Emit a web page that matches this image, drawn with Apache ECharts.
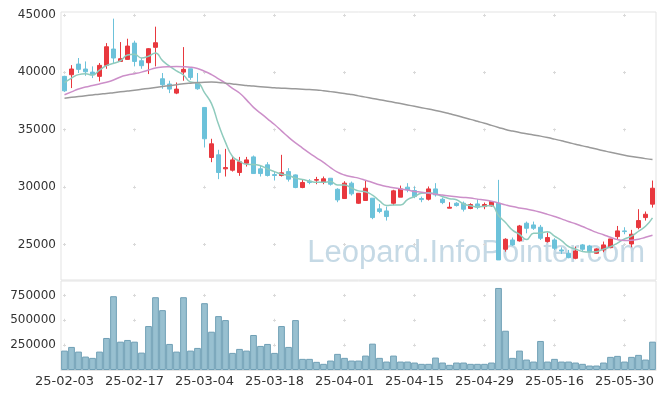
<!DOCTYPE html>
<html>
<head>
<meta charset="utf-8">
<style>
  html, body { margin: 0; padding: 0; background: #fff; }
  #main { width: 665px; height: 398px; }
</style>
<script src="https://cdn.jsdelivr.net/npm/echarts@6/dist/echarts.min.js"></script>
</head>
<body>
<div id="main"></div>
<script>
// trading days
var dates = ['25-02-03','25-02-04','25-02-05','25-02-06','25-02-07','25-02-10','25-02-11','25-02-12','25-02-13','25-02-14',
  '25-02-17','25-02-18','25-02-19','25-02-20','25-02-21','25-02-24','25-02-25','25-02-26','25-02-27','25-02-28',
  '25-03-04','25-03-05','25-03-06','25-03-07','25-03-10','25-03-11','25-03-12','25-03-13','25-03-14','25-03-17',
  '25-03-18','25-03-19','25-03-20','25-03-21','25-03-24','25-03-25','25-03-26','25-03-27','25-03-28','25-03-31',
  '25-04-01','25-04-02','25-04-03','25-04-04','25-04-07','25-04-08','25-04-09','25-04-10','25-04-11','25-04-14',
  '25-04-15','25-04-16','25-04-17','25-04-18','25-04-21','25-04-22','25-04-23','25-04-24','25-04-25','25-04-28',
  '25-04-29','25-04-30','25-05-02','25-05-07','25-05-08','25-05-09','25-05-12','25-05-13','25-05-14','25-05-15',
  '25-05-16','25-05-19','25-05-20','25-05-21','25-05-22','25-05-23','25-05-26','25-05-27','25-05-28','25-05-29',
  '25-05-30','25-06-02','25-06-04','25-06-05','25-06-09'];

var opens = [39650,39790,40720,40290,40020,39650,40610,42030,40950,41130,
  42550,41010,40840,42180,39440,38980,38190,40020,40310,39060,
  36940,32580,32810,31590,31470,31270,32080,32630,31590,31940,
  31090,31010,31350,31060,29960,30510,30600,30400,30770,29810,
  29000,30340,28590,28830,29030,28100,27920,28590,29120,29990,
  29700,29000,28940,29840,28940,28160,28590,28590,28130,28530,
  28300,28360,28590,24580,25390,25310,26850,26700,26500,25250,
  25390,24520,24230,23790,24960,24870,24230,24520,24720,25680,
  26180,25040,26470,27340,28510];
var closes = [38390,40290,40260,40050,39790,40610,42230,41250,41190,42290,
  40950,40580,42060,42580,38920,38540,38540,40260,39560,38570,
  34210,33770,31270,31700,32370,32200,32370,31180,31180,31010,
  31010,31240,30690,29960,30400,30400,30660,30720,30250,28880,
  30340,29410,29460,29900,27340,27870,27430,29670,29840,29760,
  29170,28910,29840,29320,28650,28240,28390,28070,28480,28240,
  28480,28740,23650,25450,24960,26610,26410,26410,25540,25600,
  24670,24430,23850,24430,24580,24370,24610,24960,25480,26180,
  26120,25890,27080,27630,29900];
var lows = [38300,38630,39940,39700,39500,39210,40310,40720,40950,41100,
  40520,40310,39850,40520,38570,38190,38100,39270,39350,38480,
  33450,32170,30690,30920,31350,30980,31790,31180,30920,30920,
  30570,30920,30480,29900,29900,30250,30250,30250,30130,28680,
  29000,29260,28530,28830,27200,27720,27080,28420,29120,29550,
  29030,28680,28830,29170,28510,28160,28300,27870,28070,28070,
  28070,28300,23650,24370,24870,25250,25970,26270,25390,25160,
  24520,24170,23790,23710,24430,24290,24170,24320,24670,25450,
  25890,24750,26320,27080,28210];
var highs = [39700,40630,41250,40950,40520,40810,42550,44680,42640,42930,
  42760,41250,42120,43980,39940,39270,39120,42200,40310,39940,
  36940,34210,33250,33330,32660,32630,32630,32750,31880,32170,
  31350,32810,31650,31100,30690,30690,30890,30920,30770,29900,
  30510,30480,29460,30570,29030,28530,28300,29760,30130,30340,
  30050,29170,30050,30340,29090,28680,28680,28740,28590,28940,
  28650,28740,30630,25540,25600,26700,26990,26990,26700,26030,
  25540,24750,24520,24810,25040,24960,24670,25250,25480,26610,
  26500,26270,28070,27870,30570];

var volumes = [195000,232000,185000,135000,122000,185000,322000,742000,285000,302000,
  285000,175000,442000,732000,602000,262000,185000,732000,195000,222000,
  672000,385000,542000,502000,172000,212000,195000,352000,242000,262000,
  172000,442000,232000,502000,112000,112000,82000,62000,95000,162000,
  122000,95000,95000,145000,265000,122000,85000,145000,85000,85000,
  75000,62000,62000,125000,75000,52000,75000,75000,62000,62000,
  62000,75000,825000,395000,122000,195000,105000,85000,292000,85000,
  112000,85000,85000,75000,62000,45000,45000,75000,132000,142000,
  85000,132000,152000,105000,285000];

// moving averages as drawn
var ma5 = [39100,39500,39800,39870,39760,40200,40590,40790,41010,41510,
  41580,41250,41410,41690,41020,40540,40130,39770,39160,39090,
  38230,37270,35470,33900,32660,32260,31980,31970,31860,31590,
  31350,31120,31020,30780,30660,30530,30420,30420,30480,30180,
  30170,29920,29670,29600,29290,28800,28400,28440,28430,28910,
  29170,29470,29510,29400,29180,28990,28890,28530,28370,28280,
  28330,28400,27520,26910,26250,25880,25420,25970,25990,26110,
  25720,25330,24820,24600,24390,24330,24370,24590,24800,25120,
  25470,25720,26150,26580,27320];
var ma20 = [38050,38300,38550,38720,38850,38990,39140,39330,39600,39760,
  39880,40020,40200,40380,40460,40490,40500,40490,40450,40330,
  40100,39800,39430,39050,38600,38200,37600,36950,36450,35950,
  35450,34900,34350,33850,33400,32950,32550,32150,31700,31300,
  31050,30900,30780,30600,30400,30200,30050,29950,29830,29740,
  29620,29550,29450,29380,29300,29220,29150,29100,29040,28950,
  28870,28760,28620,28450,28300,28180,28080,27960,27800,27620,
  27430,27230,27000,26800,26560,26300,26050,25850,25620,25420,
  25350,25370,25450,25620,25800];
var ma60 = [37750,37820,37890,37960,38030,38100,38160,38230,38300,38370,
  38440,38520,38600,38680,38760,38840,38920,39000,39060,39110,
  39140,39150,39120,39060,38990,38920,38860,38800,38750,38700,
  38650,38620,38590,38560,38530,38500,38470,38400,38320,38240,
  38160,38060,37950,37840,37730,37620,37510,37400,37280,37160,
  37040,36920,36800,36680,36540,36390,36240,36060,35900,35730,
  35560,35380,35200,35020,34880,34760,34650,34540,34440,34320,
  34180,34030,33880,33740,33590,33450,33310,33170,33030,32900,
  32780,32670,32570,32480,32400];

var priceTicks = [25000, 30000, 35000, 40000, 45000];
var volTicks = [250000, 500000, 750000];

var candleData = [];
for (var i = 0; i < dates.length; i++) {
  candleData.push([opens[i], closes[i], lows[i], highs[i]]);
}

var labelFont = 'DejaVu Sans';
var crossColor = '#d9d9d9';
function plain(v) { return String(v); }

var chart = echarts.init(document.getElementById('main'));
var option = {
  animation: false,
  backgroundColor: '#fff',
  graphic: [{
    type: 'text',
    right: 20,
    top: 238,
    z: 0,
    style: {
      text: 'Leopard.InfoPointer.com',
      font: '31px "Liberation Sans"',
      fill: 'rgba(150,186,208,0.55)'
    }
  }],
  grid: [
    { left: 61, right: 9, top: 12, height: 268, show: true, borderColor: '#e3e3e3', borderWidth: 1 },
    { left: 61, right: 9, top: 281, height: 89, show: true, borderColor: '#e3e3e3', borderWidth: 1 }
  ],
  xAxis: [{
    type: 'category', gridIndex: 0, data: dates, boundaryGap: true,
    axisLine: { show: false }, axisTick: { show: false }, axisLabel: { show: false },
    splitLine: { show: true, interval: 9, alignWithLabel: true,
      lineStyle: { color: crossColor, width: 1, type: [3, 54.3], dashOffset: 55.5 } }
  }, {
    type: 'category', gridIndex: 1, data: dates, boundaryGap: true,
    axisLine: { show: true, lineStyle: { color: '#e3e3e3' } },
    axisTick: { show: false },
    axisLabel: { interval: 9, color: '#333', fontSize: 13, fontFamily: labelFont, margin: 5 },
    splitLine: { show: true, interval: 9, alignWithLabel: true,
      lineStyle: { color: crossColor, width: 1, type: [3, 21.86], dashOffset: 11.96 } }
  }],
  yAxis: [{
    type: 'value', gridIndex: 0, min: 21900, max: 45260, scale: true,
    axisLine: { show: false },
    axisTick: { show: false, customValues: priceTicks },
    axisLabel: { customValues: priceTicks, formatter: plain, color: '#333', fontSize: 12, fontFamily: labelFont, margin: 5 },
    splitLine: { show: true, lineStyle: { color: crossColor, width: 1, type: [3, 67], dashOffset: 68 } }
  }, {
    type: 'value', gridIndex: 1, min: 0, max: 895000,
    axisLine: { show: false },
    axisTick: { show: false, customValues: volTicks },
    axisLabel: { customValues: volTicks, formatter: plain, color: '#333', fontSize: 12, fontFamily: labelFont, margin: 5 },
    splitLine: { show: true, lineStyle: { color: crossColor, width: 1, type: [3, 67], dashOffset: 68 } }
  }],
  series: [{
    name: 'price', type: 'candlestick', xAxisIndex: 0, yAxisIndex: 0,
    data: candleData, barWidth: '74%',
    itemStyle: { color: '#e8383e', color0: '#6cc2da', borderColor: '#e8383e', borderColor0: '#6cc2da', borderWidth: 1 }
  }, {
    name: 'MA5', type: 'line', xAxisIndex: 0, yAxisIndex: 0, data: ma5,
    smooth: true, showSymbol: false, lineStyle: { color: '#8fcbbd', width: 1.5 }, z: 3
  }, {
    name: 'MA20', type: 'line', xAxisIndex: 0, yAxisIndex: 0, data: ma20,
    smooth: true, showSymbol: false, lineStyle: { color: '#cc8fc9', width: 1.5 }, z: 3
  }, {
    name: 'MA60', type: 'line', xAxisIndex: 0, yAxisIndex: 0, data: ma60,
    smooth: true, showSymbol: false, lineStyle: { color: '#9a9a9a', width: 1.5 }, z: 3
  }, {
    name: 'volume', type: 'bar', xAxisIndex: 1, yAxisIndex: 1, data: volumes,
    barCategoryGap: '4%',
    itemStyle: { color: '#98c0d0', borderColor: '#6f9fb5', borderWidth: 1 }
  }]
};
chart.setOption(option);
</script>
</body>
</html>
